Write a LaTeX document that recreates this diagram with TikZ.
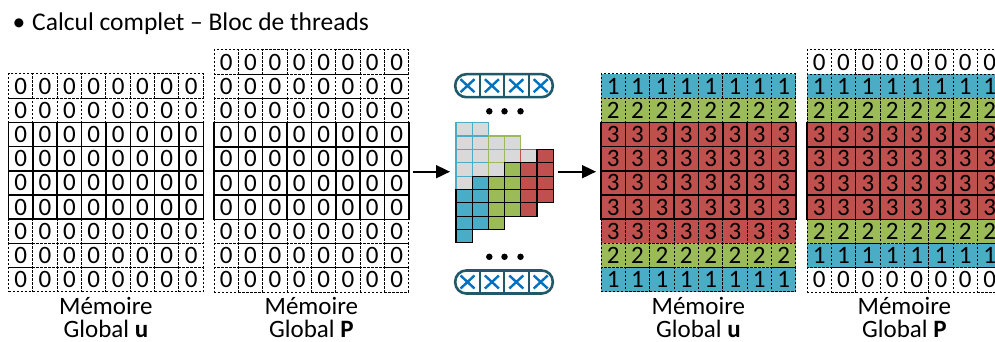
\documentclass[tikz,border=0pt]{standalone}
\usepackage{fontspec}
\setmainfont{Carlito}
\usetikzlibrary{arrows.meta}

\definecolor{bleuC}{HTML}{4BACC6}
\definecolor{vertC}{HTML}{9BBB59}
\definecolor{rougeC}{HTML}{C0504D}
\definecolor{grisC}{HTML}{D9D9D9}
\definecolor{bordC}{HTML}{215968}
\definecolor{croixC}{HTML}{0070C0}

\tikzset{
  case/.style={draw,minimum width=24.35pt,minimum height=24.2pt,inner sep=0pt,font=\fontsize{25}{25}\selectfont},
  pointille/.style={line width=1pt,dash pattern=on 2.2pt off 1.8pt},
  plein/.style={line width=1.5pt},
  petite/.style={draw=black,line width=1.2pt,minimum width=16.2pt,minimum height=13.35pt,inner sep=0pt},
  capsule/.style={draw=bordC,line width=2.6pt,rounded corners=11pt,minimum width=97.5pt,minimum height=23pt,inner sep=0pt},
  croixcase/.style={minimum width=24.4pt,minimum height=23pt,inner sep=0pt},
  croix/.style={draw=croixC,line width=2.4pt},
  point/.style={circle,fill=black,minimum size=6.5pt,inner sep=0pt},
  etiquette/.style={anchor=base,inner sep=1pt,font=\fontsize{25}{30}\selectfont},
  fleche/.style={line width=1.8pt,-{Triangle[length=14pt,width=13pt]}}
}

\begin{document}
\begin{tikzpicture}[x=1pt,y=-1pt]
  \path[use as bounding box,clip] (0,0) rectangle (995,342);

  \node[anchor=base west,font=\fontsize{25.5}{30}\selectfont] (titre) at (9,31) {•\hspace{7pt}Calcul complet – Bloc de threads};

  % memoire globale u, avant
  \foreach \r/\s in {0/pointille,1/pointille,6/pointille,7/pointille,8/pointille,2/plein,3/plein,4/plein,5/plein}
    \foreach \c in {0,...,7}
      \node[case,\s] (uA-\r-\c) at ({20.7+24.35*\c},{86.1+24.2*\r}) {0};
  \node[etiquette] (memuA) at (105.9,314) {Mémoire};
  \node[etiquette] (gluA) at (105.9,337) {Global \textbf{u}};

  % memoire globale P, avant
  \foreach \r/\s in {0/pointille,1/pointille,2/pointille,7/pointille,8/pointille,9/pointille,3/plein,4/plein,5/plein,6/plein}
    \foreach \c in {0,...,7}
      \node[case,\s] (pA-\r-\c) at ({226.2+24.35*\c},{62.1+24.2*\r}) {0};
  \node[etiquette] (mempA) at (311.4,314) {Mémoire};
  \node[etiquette] (glpA) at (311.4,337) {Global \textbf{P}};

  % bloc de threads
  \coordinate (f1a) at (412.5,171.7);
  \coordinate (f1b) at (450,171.7);
  \draw[fleche] (f1a) -- (f1b);

  \node[capsule] (capH) at (504,85.7) {};
  \foreach \i in {1,...,4}
    \node[croixcase] (xH-\i) at ({455.3+24.4*(\i-0.5)},85.7) {};
  \foreach \i in {1,2,3}
    \draw[draw=bordC,line width=2pt] (xH-\i.north east) -- (xH-\i.south east);
  \foreach \i in {1,...,4}
    \draw[croix] ([xshift=-7pt,yshift=6.5pt]xH-\i.center) -- ([xshift=7pt,yshift=-6.5pt]xH-\i.center)
                 ([xshift=-7pt,yshift=-6.5pt]xH-\i.center) -- ([xshift=7pt,yshift=6.5pt]xH-\i.center);
  \foreach \i/\x in {1/489.3,2/504.5,3/520.5}
    \node[point] (ptH-\i) at (\x,111.3) {};

  \foreach \c/\r/\b in {0/0/bleuC,0/1/bleuC,0/2/bleuC,0/3/bleuC,0/4/bleuC,1/0/bleuC,1/1/bleuC,1/2/bleuC,1/3/bleuC,
                        2/1/vertC,2/2/vertC,2/3/vertC,3/1/vertC,3/2/vertC,4/2/rougeC}
    \node[petite,fill=grisC,draw=\b] (gris-\c-\r) at ({464.1+16.2*\c},{129.4+13.35*\r}) {};
  \foreach \c/\a/\f in {0/5/bleuC,1/4/bleuC,2/4/vertC,3/3/vertC,4/3/rougeC,5/2/rougeC}
    \foreach \k in {0,...,3}
      \node[petite,fill=\f] (pile-\c-\k) at ({464.1+16.2*\c},{129.4+13.35*(\a+\k)}) {};

  \foreach \i/\x in {1/489.3,2/504.5,3/520.5}
    \node[point] (ptB-\i) at (\x,256.8) {};
  \node[capsule] (capB) at (504,282) {};
  \foreach \i in {1,...,4}
    \node[croixcase] (xB-\i) at ({455.3+24.4*(\i-0.5)},282) {};
  \foreach \i in {1,2,3}
    \draw[draw=bordC,line width=2pt] (xB-\i.north east) -- (xB-\i.south east);
  \foreach \i in {1,...,4}
    \draw[croix] ([xshift=-7pt,yshift=6.5pt]xB-\i.center) -- ([xshift=7pt,yshift=-6.5pt]xB-\i.center)
                 ([xshift=-7pt,yshift=-6.5pt]xB-\i.center) -- ([xshift=7pt,yshift=6.5pt]xB-\i.center);

  \coordinate (f2a) at (557.5,171.7);
  \coordinate (f2b) at (596,171.7);
  \draw[fleche] (f2a) -- (f2b);

  % memoire globale u, apres
  \foreach \r/\v/\f/\s in {0/1/bleuC/pointille,1/2/vertC/pointille,6/3/rougeC/pointille,7/2/vertC/pointille,8/1/bleuC/pointille,
                           2/3/rougeC/plein,3/3/rougeC/plein,4/3/rougeC/plein,5/3/rougeC/plein}
    \foreach \c in {0,...,7}
      \node[case,\s,fill=\f] (uB-\r-\c) at ({613.2+24.35*\c},{86.1+24.2*\r}) {\v};
  \node[etiquette] (memuB) at (698.4,314) {Mémoire};
  \node[etiquette] (gluB) at (698.4,337) {Global \textbf{u}};

  % memoire globale P, apres
  \foreach \r/\v/\f/\s in {0/0/white/pointille,1/1/bleuC/pointille,2/2/vertC/pointille,7/2/vertC/pointille,8/1/bleuC/pointille,9/0/white/pointille,
                           3/3/rougeC/plein,4/3/rougeC/plein,5/3/rougeC/plein,6/3/rougeC/plein}
    \foreach \c in {0,...,7}
      \node[case,\s,fill=\f] (pB-\r-\c) at ({819.2+24.35*\c},{62.1+24.2*\r}) {\v};
  \node[etiquette] (mempB) at (904.4,314) {Mémoire};
  \node[etiquette] (glpB) at (904.4,337) {Global \textbf{P}};
\end{tikzpicture}
\end{document}
